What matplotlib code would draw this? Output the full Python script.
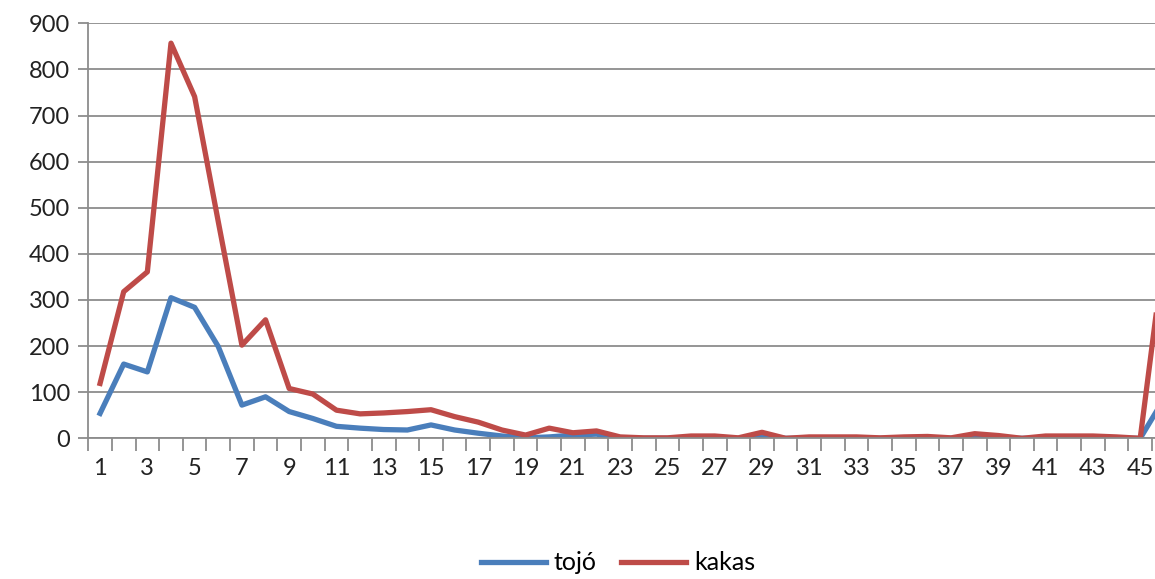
import matplotlib
matplotlib.use("Agg")
import matplotlib.pyplot as plt
import numpy as np

plt.rcParams['font.family'] = ['Lato', 'DejaVu Sans']

# weeks 1..46
het = list(range(1, 47))
tojo = [54, 161, 144, 305, 284, 199, 72, 90, 58, 43,
        26, 22, 19, 18, 29, 18, 11, 5, 1, 3,
        7, 9, 0, 0, 0, 0, 0, 0, 4, 0,
        0, 0, 0, 0, 0, 0, 0, 2, 0, 0,
        0, 0, 0, 0, 0, 85]
kakas = [119, 318, 361, 857, 741, 470, 202, 257, 108, 96,
         61, 53, 55, 58, 62, 47, 35, 18, 7, 22,
         12, 16, 3, 1, 1, 5, 5, 1, 13, 0,
         3, 3, 3, 1, 3, 4, 1, 10, 6, 0,
         5, 5, 5, 3, 0, 400]
xlabels = [str(v) for v in het if v % 2 == 1]

fig = plt.figure(figsize=(11.55, 5.79), dpi=100)
ax = fig.add_axes([0.0764, 0.243, 0.9415, 0.7167])

ax.plot(het, tojo, color='#4A7EBB', lw=3.8, label='tojó', solid_joinstyle='round')
ax.plot(het, kakas, color='#BE4B48', lw=3.8, label='kakas', solid_joinstyle='round')

ax.set_xlim(0.5, 46.5)
ax.set_ylim(0, 900)
ax.set_yticks(range(0, 901, 100))
ax.yaxis.grid(True, color='#8c8c8c', lw=1.3)
ax.set_axisbelow(True)

ax.set_xticks([v for v in het if v % 2 == 1])
ax.set_xticklabels(xlabels)
ax.set_xticks(np.arange(0.5, 47, 1), minor=True)
ax.tick_params(axis='x', which='major', length=0, pad=14, labelsize=17, labelcolor='#222222')
ax.tick_params(axis='x', which='minor', length=9, width=1.3, color='#8c8c8c')
ax.tick_params(axis='y', length=7, width=1.3, color='#8c8c8c', labelsize=17,
               labelcolor='#222222', pad=6)

for s in ['top', 'right']:
    ax.spines[s].set_visible(False)
for s in ['left', 'bottom']:
    ax.spines[s].set_color('#8c8c8c')
    ax.spines[s].set_linewidth(1.3)

fig.legend(loc='center', bbox_to_anchor=(0.535, 0.028), ncol=2, frameon=False,
           fontsize=18, handlelength=2.6, columnspacing=1.0, handletextpad=0.3)

fig.savefig('out.png', dpi=100)
